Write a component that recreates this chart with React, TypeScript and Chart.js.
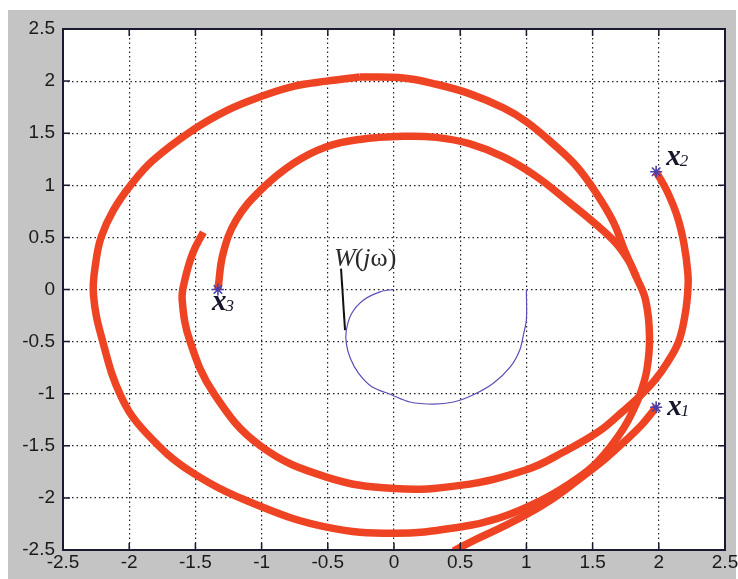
import React, { useEffect, useRef } from 'react';
import { Chart, registerables } from 'chart.js';

Chart.register(...registerables);

// Axis range and tick step (both axes)
const AXIS_MIN = -2.5;
const AXIS_MAX = 2.5;
const AXIS_STEP = 0.5;

// Outer closed loop (clockwise, starting near the top)
const loopX = [-0.26, 0.07, 0.32, 0.57, 0.83, 1.0, 1.2, 1.38, 1.53, 1.66, 1.74, 1.83, 1.9, 1.93, 1.91, 1.86, 1.81, 1.74, 1.64, 1.5, 1.33, 1.1, 0.8, 0.5, 0.0, -0.51, -1.01, -1.52, -1.87, -2.06, -2.2, -2.27, -2.25, -2.21, -2.12, -1.99, -1.82, -1.52, -1.26, -1.01, -0.76, -0.51, -0.26];
const loopY = [2.04, 2.03, 1.97, 1.88, 1.74, 1.61, 1.40, 1.18, 0.92, 0.64, 0.38, 0.12, -0.1, -0.45, -0.77, -1.0, -1.15, -1.32, -1.5, -1.7, -1.86, -2.03, -2.19, -2.28, -2.34, -2.28, -2.08, -1.76, -1.38, -1.03, -0.5, -0.05, 0.28, 0.51, 0.76, 1.0, 1.24, 1.53, 1.72, 1.85, 1.95, 2.0, 2.04];

// Trajectory starting at x3, joining the outer loop on the right
const arc3X = [-1.33, -1.29, -1.19, -1.01, -0.76, -0.51, -0.26, 0.07, 0.32, 0.57, 0.83, 1.08, 1.33, 1.53, 1.68, 1.78, 1.83];
const arc3Y = [0.0, 0.35, 0.67, 0.95, 1.21, 1.37, 1.44, 1.47, 1.46, 1.40, 1.27, 1.08, 0.83, 0.62, 0.44, 0.26, 0.12];

// Trajectory starting at x2 (inner spiral)
const arc2X = [1.98, 2.06, 2.14, 2.19, 2.22, 2.22, 2.2, 2.15, 2.06, 1.97, 1.86, 1.72, 1.55, 1.28, 1.0, 0.5, 0.0, -0.51, -1.01, -1.36, -1.54, -1.6, -1.58, -1.52, -1.44];
const arc2Y = [1.13, 0.95, 0.70, 0.44, 0.15, 0.0, -0.23, -0.5, -0.71, -0.87, -1.02, -1.18, -1.36, -1.56, -1.73, -1.88, -1.91, -1.80, -1.5, -1.0, -0.5, -0.1, 0.09, 0.35, 0.55];

// Trajectory starting at x1
const arc1X = [1.98, 1.87, 1.74, 1.6, 1.42, 1.22, 1.0, 0.8, 0.6, 0.45];
const arc1Y = [-1.13, -1.3, -1.46, -1.62, -1.8, -1.99, -2.16, -2.29, -2.41, -2.51];

// W(jω) curve
const wX = [0, -0.1, -0.23, -0.32, -0.36, -0.36, -0.33, -0.27, -0.17, -0.02, 0.12, 0.30, 0.45, 0.6, 0.75, 0.88, 0.95, 0.98, 1.0, 1.0];
const wY = [0, -0.02, -0.1, -0.23, -0.39, -0.52, -0.66, -0.80, -0.93, -1.01, -1.08, -1.10, -1.08, -1.01, -0.90, -0.74, -0.58, -0.42, -0.29, 0];

// Leader line for the W(jω) label
const leaderX = [-0.40, -0.37];
const leaderY = [0.20, -0.39];
const W_LABEL = ['W', '(', 'j', 'ω', ')'];

// Starting points
const startNames = ['x', 'x', 'x'];
const startSubs = ['1', '2', '3'];
const startX = [1.98, 1.98, -1.33];
const startY = [-1.13, 1.13, 0.0];

const zip = (xs: number[], ys: number[]) => xs.map((x, i) => ({ x, y: ys[i] }));

const RED = '#ef4423';
const BLUE = '#5a4fb5';

const framePlugin = {
  id: 'frame',
  beforeDraw(chart: any) {
    const { ctx, chartArea: a } = chart;
    ctx.save();
    ctx.fillStyle = '#ffffff';
    ctx.fillRect(0, 0, chart.width, chart.height);
    ctx.fillStyle = '#c4c4c4';
    ctx.fillRect(8, 10, 728, chart.height - 10);
    ctx.fillStyle = '#ffffff';
    ctx.fillRect(a.left, a.top, a.right - a.left, a.bottom - a.top);
    ctx.restore();
  },
  afterDatasetsDraw(chart: any) {
    const { ctx, chartArea: a, scales } = chart;
    ctx.save();
    ctx.strokeStyle = '#1a1a30';
    ctx.lineWidth = 2;
    ctx.strokeRect(a.left, a.top, a.right - a.left, a.bottom - a.top);
    const tl = 7;
    ctx.lineWidth = 1.5;
    ctx.beginPath();
    scales.x.ticks.forEach((t: any) => {
      const px = scales.x.getPixelForValue(t.value);
      ctx.moveTo(px, a.bottom);
      ctx.lineTo(px, a.bottom - tl);
      ctx.moveTo(px, a.top);
      ctx.lineTo(px, a.top + tl);
    });
    scales.y.ticks.forEach((t: any) => {
      const py = scales.y.getPixelForValue(t.value);
      ctx.moveTo(a.left, py);
      ctx.lineTo(a.left + tl, py);
      ctx.moveTo(a.right, py);
      ctx.lineTo(a.right - tl, py);
    });
    ctx.stroke();
    ctx.restore();
  },
  afterDraw(chart: any) {
    const { ctx, scales } = chart;
    ctx.save();
    ctx.textBaseline = 'alphabetic';
    ctx.textAlign = 'left';
    // start point labels
    const offs = [
      { dx: 11, dy: 8 },
      { dx: 10, dy: -7 },
      { dx: -6, dy: 20 },
    ];
    startX.forEach((sx, i) => {
      const px = scales.x.getPixelForValue(sx) + offs[i].dx;
      const py = scales.y.getPixelForValue(startY[i]) + offs[i].dy;
      ctx.fillStyle = '#15152a';
      ctx.font = 'italic bold 29px "Liberation Serif", "Times New Roman", serif';
      ctx.fillText(startNames[i], px, py);
      const w = ctx.measureText(startNames[i]).width;
      ctx.font = 'italic 17px "Liberation Serif", "Times New Roman", serif';
      ctx.fillText(startSubs[i], px + w - 1, py + 1);
    });
    // W(jω) label
    let lx = scales.x.getPixelForValue(leaderX[0]) - 7;
    const ly = scales.y.getPixelForValue(leaderY[0]) - 3;
    ctx.fillStyle = '#2a2a2a';
    W_LABEL.forEach((s) => {
      const italic = s === 'W' || s === 'j';
      ctx.font = (italic ? 'italic ' : '') + '26px "Liberation Serif", "Times New Roman", serif';
      ctx.fillText(s, lx, ly);
      lx += ctx.measureText(s).width + (s === 'W' ? -1 : 0);
    });
    ctx.restore();
  },
};

export default function App() {
  const ref = useRef<HTMLCanvasElement | null>(null);
  useEffect(() => {
    if (!ref.current) return;
    const lineDs = (data: any[], color: string, width: number, tension = 0.4) => ({
      data,
      showLine: true,
      borderColor: color,
      backgroundColor: color,
      borderWidth: width,
      pointRadius: 0,
      tension,
      borderCapStyle: 'butt',
      borderJoinStyle: 'round',
      fill: false,
    });
    const tickFont = { family: '"Liberation Sans", Arial, sans-serif', size: 19, lineHeight: 1.2 };
    const chart = new Chart(ref.current, {
      type: 'scatter',
      data: {
        datasets: [
          {
            data: zip(startX, startY),
            showLine: false,
            pointStyle: 'star',
            pointRadius: 6,
            borderColor: '#4a3fa8',
            backgroundColor: '#4a3fa8',
            borderWidth: 1.6,
          } as any,
          lineDs(zip(leaderX, leaderY), '#111111', 2, 0),
          lineDs(zip(wX, wY), BLUE, 1.2, 0.3),
          lineDs(zip(arc1X, arc1Y), RED, 7.5),
          lineDs(zip(arc2X, arc2Y), RED, 7.5),
          lineDs(zip(arc3X, arc3Y), RED, 7.5),
          lineDs(zip(loopX, loopY), RED, 7.5),
        ],
      },
      options: {
        animation: false,
        responsive: false,
        maintainAspectRatio: false,
        layout: { padding: { left: 0, top: 29, right: 13, bottom: 0 } },
        plugins: { legend: { display: false }, tooltip: { enabled: false } },
        scales: {
          x: {
            type: 'linear',
            min: AXIS_MIN,
            max: AXIS_MAX,
            ticks: {
              stepSize: AXIS_STEP,
              autoSkip: false,
              maxRotation: 0,
              padding: 1,
              color: '#1a1a1a',
              font: tickFont,
              callback: (v: any) => `${Number(v)}`,
            },
            grid: { color: '#222222', lineWidth: 1.2, drawTicks: false },
            border: { display: false, dash: [1.5, 3] },
            afterFit: (s: any) => {
              s.height = 29;
              s.paddingLeft = 0;
              s.paddingRight = 0;
            },
          },
          y: {
            type: 'linear',
            min: AXIS_MIN,
            max: AXIS_MAX,
            ticks: {
              stepSize: AXIS_STEP,
              autoSkip: false,
              padding: 8,
              color: '#1a1a1a',
              font: tickFont,
              callback: (v: any) => `${Number(v)}`,
            },
            grid: { color: '#222222', lineWidth: 1.2, drawTicks: false },
            border: { display: false, dash: [1.5, 3] },
            afterFit: (s: any) => {
              s.width = 63;
              s.paddingTop = 0;
              s.paddingBottom = 0;
            },
          },
        },
      },
      plugins: [framePlugin],
    } as any);
    return () => chart.destroy();
  }, []);
  return (
    <div style={{ position: 'fixed', left: 0, top: 0, width: 738, height: 579 }}>
      <canvas ref={ref} width={738} height={579} style={{ display: 'block' }} />
    </div>
  );
}
